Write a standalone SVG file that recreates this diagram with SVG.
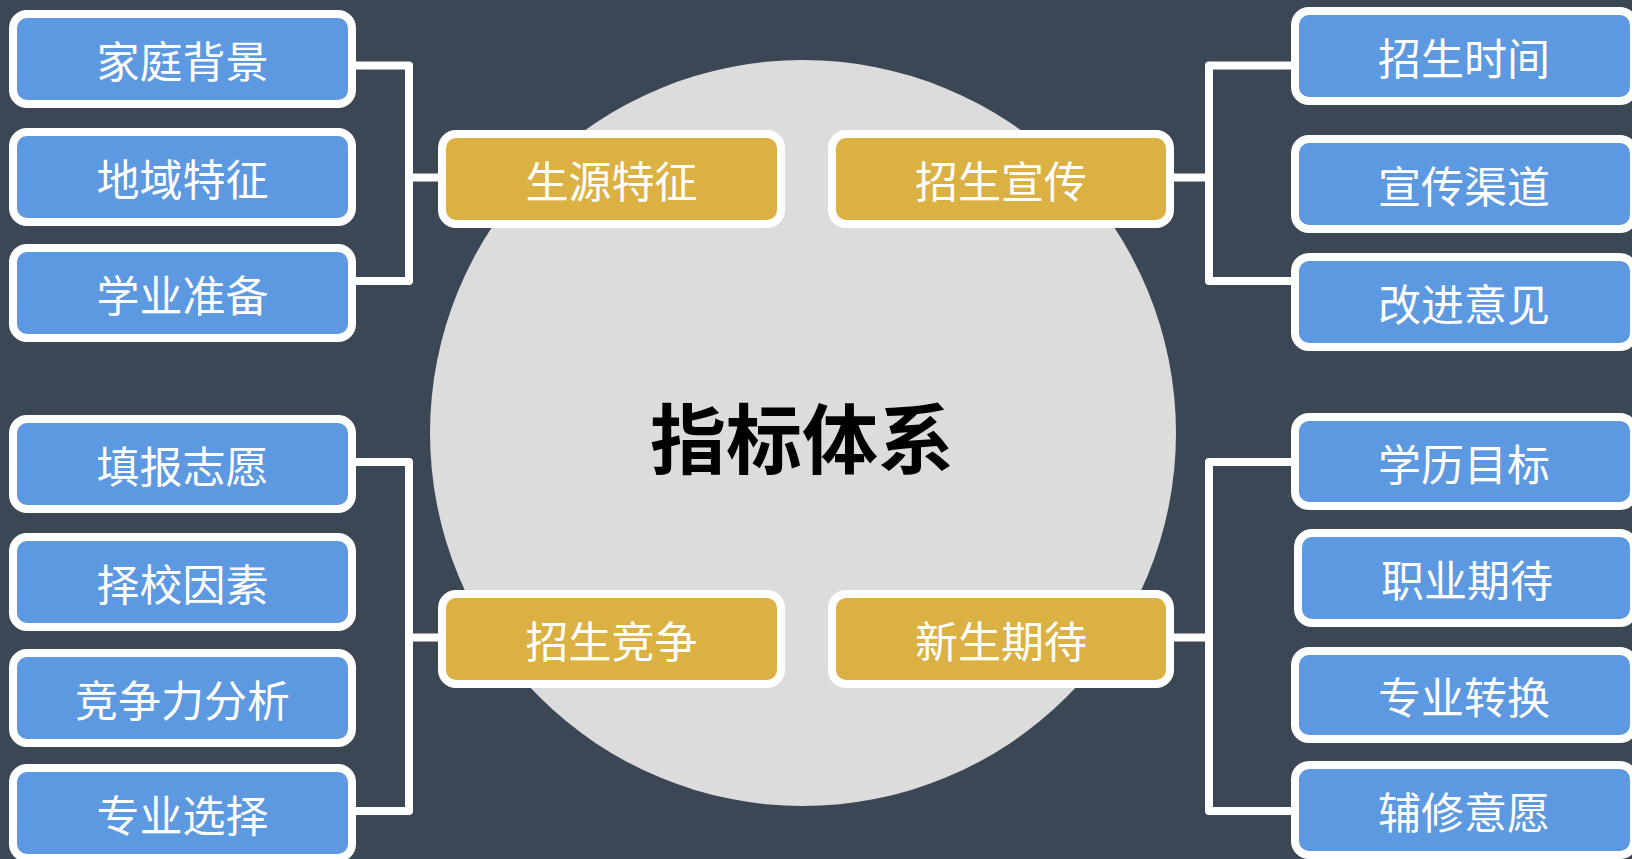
<svg xmlns="http://www.w3.org/2000/svg" width="1632" height="859" viewBox="0 0 1632 859">
<style>
.bg{fill:#3c4755}
.leaf{fill:#5d99e0;stroke:#ffffff;stroke-width:8}
.cat{fill:#dcb143;stroke:#ffffff;stroke-width:8}
.t{font-family:"Noto Sans CJK SC","Noto Sans",sans-serif;font-size:43px;fill:#ffffff;text-anchor:middle;dominant-baseline:central}
.c{fill:none;stroke:#ffffff;stroke-width:8;stroke-linejoin:round}
.title{font-family:"Noto Sans CJK SC","Noto Sans",sans-serif;font-size:76px;font-weight:700;fill:#000000;text-anchor:middle;dominant-baseline:central}
</style>
<rect class="bg" x="0" y="0" width="1632" height="859"/>
<circle cx="803" cy="433" r="373" fill="#dcdcdc"/>
<g id="connectors">
<path class="c" d="M350,65.5 H409 V281 H350 M409,177.5 H442"/>
<path class="c" d="M1297,65.5 H1209 V281 H1297 M1170,177.5 H1209"/>
<path class="c" d="M350,462 H409 V811 H350 M409,637.5 H442"/>
<path class="c" d="M1297,462 H1209 V811 H1297 M1170,637.5 H1209"/>
</g>
<g id="center"><text class="title" x="802" y="435">指标体系</text></g>
<g id="cat1"><rect class="cat" x="442" y="134" width="339" height="90" rx="14"/><text class="t" x="611.5" y="179">生源特征</text></g>
<g id="cat2"><rect class="cat" x="832" y="134" width="338" height="90" rx="14"/><text class="t" x="1001" y="179">招生宣传</text></g>
<g id="cat3"><rect class="cat" x="442" y="594" width="339" height="90" rx="14"/><text class="t" x="611.5" y="639">招生竞争</text></g>
<g id="cat4"><rect class="cat" x="832" y="594" width="338" height="90" rx="14"/><text class="t" x="1001" y="639">新生期待</text></g>
<g id="l1"><rect class="leaf" x="13" y="14" width="339" height="90" rx="14"/><text class="t" x="182.5" y="59">家庭背景</text></g>
<g id="l2"><rect class="leaf" x="13" y="132" width="339" height="90" rx="14"/><text class="t" x="182.5" y="177">地域特征</text></g>
<g id="l3"><rect class="leaf" x="13" y="248" width="339" height="90" rx="14"/><text class="t" x="182.5" y="293">学业准备</text></g>
<g id="l4"><rect class="leaf" x="13" y="419" width="339" height="90" rx="14"/><text class="t" x="182.5" y="464">填报志愿</text></g>
<g id="l5"><rect class="leaf" x="13" y="537" width="339" height="90" rx="14"/><text class="t" x="182.5" y="582">择校因素</text></g>
<g id="l6"><rect class="leaf" x="13" y="653" width="339" height="90" rx="14"/><text class="t" x="182.5" y="698">竞争力分析</text></g>
<g id="l7"><rect class="leaf" x="13" y="768" width="339" height="90" rx="14"/><text class="t" x="182.5" y="813">专业选择</text></g>
<g id="r1"><rect class="leaf" x="1295" y="11" width="339" height="90" rx="14"/><text class="t" x="1464" y="56">招生时间</text></g>
<g id="r2"><rect class="leaf" x="1295" y="139" width="339" height="90" rx="14"/><text class="t" x="1464" y="184">宣传渠道</text></g>
<g id="r3"><rect class="leaf" x="1295" y="257" width="339" height="90" rx="14"/><text class="t" x="1464" y="302">改进意见</text></g>
<g id="r4"><rect class="leaf" x="1295" y="417" width="339" height="89" rx="14"/><text class="t" x="1464" y="461.5">学历目标</text></g>
<g id="r5"><rect class="leaf" x="1298" y="533" width="336" height="90" rx="14"/><text class="t" x="1467" y="578">职业期待</text></g>
<g id="r6"><rect class="leaf" x="1295" y="651" width="339" height="88" rx="14"/><text class="t" x="1464" y="695">专业转换</text></g>
<g id="r7"><rect class="leaf" x="1295" y="765" width="339" height="90" rx="14"/><text class="t" x="1464" y="810">辅修意愿</text></g>
</svg>
